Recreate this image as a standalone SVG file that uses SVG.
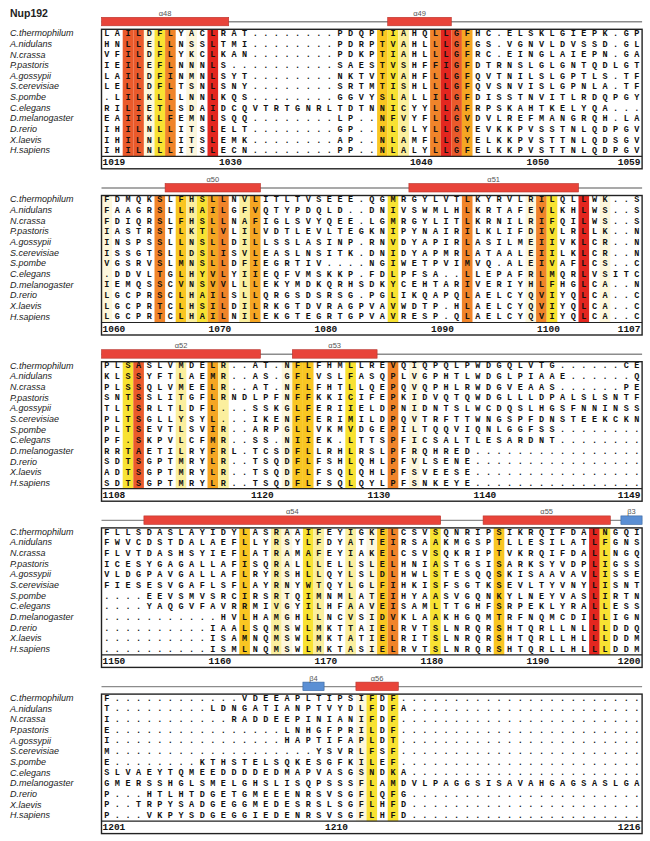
<svg xmlns="http://www.w3.org/2000/svg" width="650" height="841" viewBox="0 0 650 841">
<style>
.seq{font-family:'Liberation Mono','DejaVu Sans Mono',monospace;font-weight:bold;font-size:8.5px;letter-spacing:5.5px;fill:#111}
.sp{font-family:'Liberation Sans',Arial,sans-serif;font-style:italic;font-size:9px;fill:#222}
.num{font-family:'Liberation Mono',monospace;font-weight:bold;font-size:9.5px;fill:#111}
.ssl{font-family:'Liberation Sans',Arial,sans-serif;font-size:7.5px;fill:#555;text-anchor:middle}
.frame{fill:none;stroke:#222;stroke-width:1.4}
.sep{stroke:#222;stroke-width:1.2}
.ssline{stroke:#8c8c8c;stroke-width:1.4}
.helix{fill:#e8443a;stroke:#b8322b;stroke-width:0.6}
.strand{fill:#5b8fd4;stroke:#35649f;stroke-width:0.6}
.r1{fill:#e3261f}.r2{fill:#ea5a2b}.o1{fill:#f0842a}.o2{fill:#f5a623}.g1{fill:#f9c622}.y1{fill:#f8e232}.y2{fill:#fbef9e}.c1{fill:#fdf7dc}
</style>
<text x="10" y="16.5" font-family="'Liberation Sans',Arial,sans-serif" font-weight="bold" font-size="10.5" fill="#222">Nup192</text>

<g id="block1" transform="translate(0,29.3)">
<g class="cols">
<rect class="r2" x="122.7" y="0" width="10.6" height="127"/><rect class="r2" x="133.3" y="0" width="10.6" height="127"/><rect class="c1" x="143.9" y="0" width="10.6" height="127"/><rect class="y1" x="154.5" y="0" width="10.6" height="127"/><rect class="o1" x="165.1" y="0" width="10.6" height="127"/><rect class="c1" x="186.3" y="0" width="10.6" height="127"/><rect class="r1" x="207.5" y="0" width="10.6" height="127"/><rect class="g1" x="377.1" y="0" width="10.6" height="127"/><rect class="y1" x="387.7" y="0" width="10.6" height="127"/><rect class="y2" x="398.3" y="0" width="10.6" height="127"/><rect class="o1" x="430.1" y="0" width="10.6" height="127"/><rect class="r1" x="440.7" y="0" width="10.6" height="127"/><rect class="r2" x="451.3" y="0" width="10.6" height="127"/><rect class="o2" x="461.9" y="0" width="10.6" height="127"/>
</g>
<line class="ssline" x1="101.5" y1="-7.5" x2="642.1" y2="-7.5"/>
<rect class="helix" x="101.5" y="-12" width="127.2" height="8.5"/><text class="ssl" x="165.1" y="-13.5">α48</text>
<rect class="helix" x="387.7" y="-12" width="63.6" height="8.5"/><text class="ssl" x="419.5" y="-13.5">α49</text>
<text class="sp" x="10" y="6.9">C.thermophilum</text><text class="sp" x="10" y="17.56">A.nidulans</text><text class="sp" x="10" y="28.22">N.crassa</text><text class="sp" x="10" y="38.88">P.pastoris</text><text class="sp" x="10" y="49.54">A.gossypii</text><text class="sp" x="10" y="60.2">S.cerevisiae</text><text class="sp" x="10" y="70.86">S.pombe</text><text class="sp" x="10" y="81.52">C.elegans</text><text class="sp" x="10" y="92.18">D.melanogaster</text><text class="sp" x="10" y="102.84">D.rerio</text><text class="sp" x="10" y="113.5">X.laevis</text><text class="sp" x="10" y="124.16">H.sapiens</text>
<text class="seq" x="104.25" y="6.7">LAILDFLYACLRAT........PDQPTIAHQLLGFHC.ELSKLGIEPK.GP</text>
<text class="seq" x="104.25" y="17.36">HNLLELLNSSLTMI........PDRPTVAHLLLGFGS.VGNVLDVSSD.GL</text>
<text class="seq" x="104.25" y="28.02">VFILDFLYKCLKAN........PDKPTIAHLLLGFRC.EINGLAIEPN.GA</text>
<text class="seq" x="104.25" y="38.68">IEILEFLNNNLS..........SAESTVSHFFIGFDTRNSLGLGNTQDLGT</text>
<text class="seq" x="104.25" y="49.34">LAILDFINMNLSYT........NKTVTVAHFLLGFQVTNILSLGPTLS.TF</text>
<text class="seq" x="104.25" y="60">LELLDFLTSNLSNY........SRTMTISHLLLGFQVSNVISLGPNLA.TF</text>
<text class="seq" x="104.25" y="70.66">.LILKLLLNNLKQS........GGVYSLALLILGFDISSTNVITLRDQPGY</text>
<text class="seq" x="104.25" y="81.32">RILIETLSDAIDCQVTRTGNRLTDTNNICYYLLAFRPSKAHTKELYQA...</text>
<text class="seq" x="104.25" y="91.98">EAIIKLFEMNLSQQ........LP..NFVYFLLGVDVLREFMANGRQH.LA</text>
<text class="seq" x="104.25" y="102.64">IHILNLLITSLELT........GP..NLGLYLLGYEVKKPVSSTNLQDPGV</text>
<text class="seq" x="104.25" y="113.3">IHILNLLITSLEMK........AP..NLAMFLLGYELKKPVSTTNLQDSGV</text>
<text class="seq" x="104.25" y="123.96">IHILNLLITSLECN........PP..NLALYLLGFELKKPVSTTNLQDPGV</text>
<rect class="frame" x="101.5" y="0" width="540.6" height="139.5"/>
<line class="sep" x1="101.5" y1="127" x2="642.1" y2="127"/>
<text class="num" x="102.5" y="136">1019</text><text class="num" x="219.1" y="136">1030</text><text class="num" x="409.9" y="136">1040</text><text class="num" x="526.5" y="136">1050</text><text class="num" x="640.5" y="136" text-anchor="end">1059</text>
</g>

<g id="block2" transform="translate(0,195.5)">
<g class="cols">
<rect class="c1" x="101.5" y="0" width="10.6" height="127"/><rect class="o1" x="154.5" y="0" width="10.6" height="127"/><rect class="g1" x="175.7" y="0" width="10.6" height="127"/><rect class="y2" x="186.3" y="0" width="10.6" height="127"/><rect class="y1" x="196.9" y="0" width="10.6" height="127"/><rect class="o2" x="207.5" y="0" width="10.6" height="127"/><rect class="o1" x="218.1" y="0" width="10.6" height="127"/><rect class="y2" x="239.3" y="0" width="10.6" height="127"/><rect class="o2" x="249.9" y="0" width="10.6" height="127"/><rect class="y1" x="387.7" y="0" width="10.6" height="127"/><rect class="o1" x="461.9" y="0" width="10.6" height="127"/><rect class="c1" x="525.5" y="0" width="10.6" height="127"/><rect class="o1" x="536.1" y="0" width="10.6" height="127"/><rect class="y1" x="546.7" y="0" width="10.6" height="127"/><rect class="r1" x="578.5" y="0" width="10.6" height="127"/><rect class="c1" x="599.7" y="0" width="10.6" height="127"/>
</g>
<line class="ssline" x1="101.5" y1="-7.5" x2="642.1" y2="-7.5"/>
<rect class="helix" x="165.1" y="-12" width="95.4" height="8.5"/><text class="ssl" x="212.8" y="-13.5">α50</text>
<rect class="helix" x="408.9" y="-12" width="169.6" height="8.5"/><text class="ssl" x="493.7" y="-13.5">α51</text>
<text class="sp" x="10" y="6.9">C.thermophilum</text><text class="sp" x="10" y="17.56">A.nidulans</text><text class="sp" x="10" y="28.22">N.crassa</text><text class="sp" x="10" y="38.88">P.pastoris</text><text class="sp" x="10" y="49.54">A.gossypii</text><text class="sp" x="10" y="60.2">S.cerevisiae</text><text class="sp" x="10" y="70.86">S.pombe</text><text class="sp" x="10" y="81.52">C.elegans</text><text class="sp" x="10" y="92.18">D.melanogaster</text><text class="sp" x="10" y="102.84">D.rerio</text><text class="sp" x="10" y="113.5">X.laevis</text><text class="sp" x="10" y="124.16">H.sapiens</text>
<text class="seq" x="104.25" y="6.7">FDMQKSLFHSLLNVLITLTVSEEE.QGMRGYLVTLKYRVLRILQLLWK..S</text>
<text class="seq" x="104.25" y="17.36">FAAGRSLLHAILGFVQTYPDQLD..DNIVSWMLHLKRTAFEVLKHLWS..S</text>
<text class="seq" x="104.25" y="28.02">FDIQRSLFHSLLNAFIGLSVYQEE.LGMRGYLITLKRNILRIFQILWS..S</text>
<text class="seq" x="104.25" y="38.68">IASTRSTLKTLVLILVDTLEVLTEGKNIPYNAIRILKLIFDIVLRLLK..N</text>
<text class="seq" x="104.25" y="49.34">INSPSSLLNSLLDILLSSLASINP.RNVDYAPIRLASILMEIIVKLCR..N</text>
<text class="seq" x="104.25" y="60">ISSGTSLLDSLISVLEASLNSITK.DNIDYAPMRLATAALEIILKLCR..N</text>
<text class="seq" x="104.25" y="70.66">VGSRVSLMNSLLDFIEGRTIV....NGIWETPVIMVQ.ALEIVAFLCS..C</text>
<text class="seq" x="104.25" y="81.32">.DDVLTGLHYVLYIIEQFVMSKKP.FDLPFSA..LLEPAFRLMQRLVSITC</text>
<text class="seq" x="104.25" y="91.98">IEMQSSCVNSVVLLLEKYMDKQRHSDKYCEHTARIVERIYHLFHGLCA..N</text>
<text class="seq" x="104.25" y="102.64">LGCPRSCLHAILSLLQRGSDSRSG.PGLIKQAPQLAELCYQVIYQLCA..C</text>
<text class="seq" x="104.25" y="113.3">LGCPRTCLHSILDILRKGTDVRAGPVAVWDTP.HLAELCYQVIYQLCA..C</text>
<text class="seq" x="104.25" y="123.96">LGCPRTCLHAILNILEKGTEGRTGPVAVRESP.QLAELCYQVIYQLCA..C</text>
<rect class="frame" x="101.5" y="0" width="540.6" height="139.5"/>
<line class="sep" x1="101.5" y1="127" x2="642.1" y2="127"/>
<text class="num" x="102.5" y="136">1060</text><text class="num" x="208.5" y="136">1070</text><text class="num" x="314.5" y="136">1080</text><text class="num" x="431.1" y="136">1090</text><text class="num" x="537.1" y="136">1100</text><text class="num" x="640.5" y="136" text-anchor="end">1107</text>
</g>

<g id="block3" transform="translate(0,361.7)">
<g class="cols">
<rect class="y1" x="122.7" y="0" width="10.6" height="127"/><rect class="r2" x="133.3" y="0" width="10.6" height="127"/><rect class="y2" x="175.7" y="0" width="10.6" height="127"/><rect class="o2" x="207.5" y="0" width="10.6" height="127"/><rect class="y2" x="218.1" y="0" width="10.6" height="127"/><rect class="c1" x="281.7" y="0" width="10.6" height="127"/><rect class="g1" x="292.3" y="0" width="10.6" height="127"/><rect class="g1" x="302.9" y="0" width="10.6" height="127"/><rect class="y1" x="345.3" y="0" width="10.6" height="127"/><rect class="o1" x="387.7" y="0" width="10.6" height="127"/><rect class="c1" x="408.9" y="0" width="10.6" height="127"/>
</g>
<line class="ssline" x1="101.5" y1="-7.5" x2="642.1" y2="-7.5"/>
<rect class="helix" x="101.5" y="-12" width="159" height="8.5"/><text class="ssl" x="181" y="-13.5">α52</text>
<rect class="helix" x="292.3" y="-12" width="84.8" height="8.5"/><text class="ssl" x="334.7" y="-13.5">α53</text>
<text class="sp" x="10" y="6.9">C.thermophilum</text><text class="sp" x="10" y="17.56">A.nidulans</text><text class="sp" x="10" y="28.22">N.crassa</text><text class="sp" x="10" y="38.88">P.pastoris</text><text class="sp" x="10" y="49.54">A.gossypii</text><text class="sp" x="10" y="60.2">S.cerevisiae</text><text class="sp" x="10" y="70.86">S.pombe</text><text class="sp" x="10" y="81.52">C.elegans</text><text class="sp" x="10" y="92.18">D.melanogaster</text><text class="sp" x="10" y="102.84">D.rerio</text><text class="sp" x="10" y="113.5">X.laevis</text><text class="sp" x="10" y="124.16">H.sapiens</text>
<text class="seq" x="104.25" y="6.7">PLSASLVMDELR..AT.NFLFHMLLREVQIQPQLPWDGQLVTG......CE</text>
<text class="seq" x="104.25" y="17.36">KLSSYFTLAEMR..AS.GFLVSLFASQPLVGPHTLWDGLPIAAE......Q</text>
<text class="seq" x="104.25" y="28.02">PLSSQLVMEELR..AT.NFLFHTLLQEPQVQPHLRWDGVEAAS......PE</text>
<text class="seq" x="104.25" y="38.68">SNTSSLITGFLRNDLPFNFFKKICIFEPKIDVQTQWDGLLLDPALSLSNTF</text>
<text class="seq" x="104.25" y="49.34">TLTSRLTLDFL...SSKGLFERIIELDPNIDNTSLWCDQSLHGSFNNINSS</text>
<text class="seq" x="104.25" y="60">PLTSGLLYSYL...IKENFFERIMILDPQVTRFTTWNGSPFDNSTEEKCKN</text>
<text class="seq" x="104.25" y="70.66">PLTSEVTLSVIR..ARPGLLVKMVDGEPILTQQVIQNLGGFSS........</text>
<text class="seq" x="104.25" y="81.32">PF.SKPVLCFMR..SS.NIIEK.LTTSPFICSALTLESARDNT........</text>
<text class="seq" x="104.25" y="91.98">RRTAETILRYFRL.TCSDFLLRHLRSLPFRQHRED................</text>
<text class="seq" x="104.25" y="102.64">SDTSGPTMRYLR..TSQDFLFSHLQHLPFVLSENE................</text>
<text class="seq" x="104.25" y="113.3">ADTSGPTMRYLR..TSQDFLFSQLQHLPFSVEESE................</text>
<text class="seq" x="104.25" y="123.96">SDTSGPTMRYLR..TSQDFLFSQLQYLPFSNKEYE................</text>
<rect class="frame" x="101.5" y="0" width="540.6" height="139.5"/>
<line class="sep" x1="101.5" y1="127" x2="642.1" y2="127"/>
<text class="num" x="102.5" y="136">1108</text><text class="num" x="250.9" y="136">1120</text><text class="num" x="367.5" y="136">1130</text><text class="num" x="473.5" y="136">1140</text><text class="num" x="640.5" y="136" text-anchor="end">1149</text>
</g>

<g id="block4" transform="translate(0,527.9)">
<g class="cols">
<rect class="g1" x="239.3" y="0" width="10.6" height="127"/><rect class="y2" x="271.1" y="0" width="10.6" height="127"/><rect class="c1" x="281.7" y="0" width="10.6" height="127"/><rect class="y1" x="302.9" y="0" width="10.6" height="127"/><rect class="y2" x="313.5" y="0" width="10.6" height="127"/><rect class="y2" x="345.3" y="0" width="10.6" height="127"/><rect class="c1" x="366.5" y="0" width="10.6" height="127"/><rect class="g1" x="377.1" y="0" width="10.6" height="127"/><rect class="o1" x="387.7" y="0" width="10.6" height="127"/><rect class="y1" x="430.1" y="0" width="10.6" height="127"/><rect class="g1" x="493.7" y="0" width="10.6" height="127"/><rect class="r1" x="589.1" y="0" width="10.6" height="127"/><rect class="y1" x="599.7" y="0" width="10.6" height="127"/>
</g>
<line class="ssline" x1="101.5" y1="-7.5" x2="642.1" y2="-7.5"/>
<rect class="helix" x="143.9" y="-12" width="296.8" height="8.5"/><text class="ssl" x="292.3" y="-13.5">α54</text>
<rect class="helix" x="483.1" y="-12" width="127.2" height="8.5"/><text class="ssl" x="546.7" y="-13.5">α55</text>
<rect class="strand" x="620.9" y="-12" width="21.2" height="8.5"/><text class="ssl" x="631.5" y="-13.5">β3</text>
<text class="sp" x="10" y="6.9">C.thermophilum</text><text class="sp" x="10" y="17.56">A.nidulans</text><text class="sp" x="10" y="28.22">N.crassa</text><text class="sp" x="10" y="38.88">P.pastoris</text><text class="sp" x="10" y="49.54">A.gossypii</text><text class="sp" x="10" y="60.2">S.cerevisiae</text><text class="sp" x="10" y="70.86">S.pombe</text><text class="sp" x="10" y="81.52">C.elegans</text><text class="sp" x="10" y="92.18">D.melanogaster</text><text class="sp" x="10" y="102.84">D.rerio</text><text class="sp" x="10" y="113.5">X.laevis</text><text class="sp" x="10" y="124.16">H.sapiens</text>
<text class="seq" x="104.25" y="6.7">FLLSDASLAYIDYLASRAAIFEYIGKELCSVSQNRIPSIKRQIFDALNGQI</text>
<text class="seq" x="104.25" y="17.36">FWVCDSTDALAEFLLYRSYLFDYATTEIRSAAKMGSPTLLESILATLFGNS</text>
<text class="seq" x="104.25" y="28.02">FLVTDASHSYIEFLATRAMAFEYIAKELCSVSQKRIPTVKRQIFDALLNGQ</text>
<text class="seq" x="104.25" y="38.68">ICESYGAGALLAFISQRALLLELLSLELHNIASTGSISARKSYVDPLIGSS</text>
<text class="seq" x="104.25" y="49.34">VLDGPAVGALLAFLRYRSHLLQYLSLDLHWLSTESQQSKISAAVAVLISSE</text>
<text class="seq" x="104.25" y="60">FIESESVGAFLSFLAYRNYWTQYLGLFIHKISFSGTKSEVLTYVNYLISNT</text>
<text class="seq" x="104.25" y="70.66">....EEVSMVSRCIRSRTQIMNMLATEIHYAASVGQNKYLNEYVASLIRTN</text>
<text class="seq" x="104.25" y="81.32">....YAQGVFAVRRMIVGYILHFAAVEISAMLTTGHFSRPEKLYRALLESS</text>
<text class="seq" x="104.25" y="91.98">...........HVLHAMGHLLNCVSIDVKLAAKHGQMTRFNQMCDILLIGN</text>
<text class="seq" x="104.25" y="102.64">..........IAALSQMSWLMKTTAIELRVTSLNRQRSHTQRLLNLLLDDQ</text>
<text class="seq" x="104.25" y="113.3">..........ISAMNQMSWLMKTATIELRITSLNRQRSHTQRLLHLLLDDM</text>
<text class="seq" x="104.25" y="123.96">..........ISMLNQMSWLMKTASIELRVTSLNRQRSHTQRLLHLLLDDM</text>
<rect class="frame" x="101.5" y="0" width="540.6" height="139.5"/>
<line class="sep" x1="101.5" y1="127" x2="642.1" y2="127"/>
<text class="num" x="102.5" y="136">1150</text><text class="num" x="208.5" y="136">1160</text><text class="num" x="314.5" y="136">1170</text><text class="num" x="420.5" y="136">1180</text><text class="num" x="526.5" y="136">1190</text><text class="num" x="640.5" y="136" text-anchor="end">1200</text>
</g>

<g id="block5" transform="translate(0,694.1)">
<g class="cols">
<rect class="c1" x="355.9" y="0" width="10.6" height="127"/><rect class="y1" x="366.5" y="0" width="10.6" height="127"/><rect class="y1" x="387.7" y="0" width="10.6" height="127"/>
</g>
<line class="ssline" x1="101.5" y1="-7.5" x2="642.1" y2="-7.5"/>
<rect class="strand" x="302.9" y="-12" width="21.2" height="8.5"/><text class="ssl" x="313.5" y="-13.5">β4</text>
<rect class="helix" x="355.9" y="-12" width="42.4" height="8.5"/><text class="ssl" x="377.1" y="-13.5">α56</text>
<text class="sp" x="10" y="6.9">C.thermophilum</text><text class="sp" x="10" y="17.56">A.nidulans</text><text class="sp" x="10" y="28.22">N.crassa</text><text class="sp" x="10" y="38.88">P.pastoris</text><text class="sp" x="10" y="49.54">A.gossypii</text><text class="sp" x="10" y="60.2">S.cerevisiae</text><text class="sp" x="10" y="70.86">S.pombe</text><text class="sp" x="10" y="81.52">C.elegans</text><text class="sp" x="10" y="92.18">D.melanogaster</text><text class="sp" x="10" y="102.84">D.rerio</text><text class="sp" x="10" y="113.5">X.laevis</text><text class="sp" x="10" y="124.16">H.sapiens</text>
<text class="seq" x="104.25" y="6.7">F............VDEEAPLTIPSIFDF.......................</text>
<text class="seq" x="104.25" y="17.36">T.........LDNGATIANPTVYDLFDFA......................</text>
<text class="seq" x="104.25" y="28.02">I...........RADDEEPINIANIFDF.......................</text>
<text class="seq" x="104.25" y="38.68">E................LNHGFPRILDF.......................</text>
<text class="seq" x="104.25" y="49.34">I................HAPTIFAPLDT.......................</text>
<text class="seq" x="104.25" y="60">M...................YSVRLFSF.......................</text>
<text class="seq" x="104.25" y="70.66">E........KTHSTELSQKESGFKILEF.......................</text>
<text class="seq" x="104.25" y="81.32">SLVAEYTQMEEDDDDEDMAPVASGSNDKA......................</text>
<text class="seq" x="104.25" y="91.98">GMERSSHGLSMELGHSLISQPSSSFLAMDVLPAGGSISAVAHGAGSASLGA</text>
<text class="seq" x="104.25" y="102.64">P...HTLHTDGETGMEEENRSVSGFLQFG......................</text>
<text class="seq" x="104.25" y="113.3">P..TRPYSADGEGGMEDESRSLSGFLHFD......................</text>
<text class="seq" x="104.25" y="123.96">P...VKPYSDGEGGIEDENRSVSGFLHFD......................</text>
<rect class="frame" x="101.5" y="0" width="540.6" height="139.5"/>
<line class="sep" x1="101.5" y1="127" x2="642.1" y2="127"/>
<text class="num" x="102.5" y="136">1201</text><text class="num" x="325.1" y="136">1210</text><text class="num" x="640.5" y="136" text-anchor="end">1216</text>
</g>
</svg>
